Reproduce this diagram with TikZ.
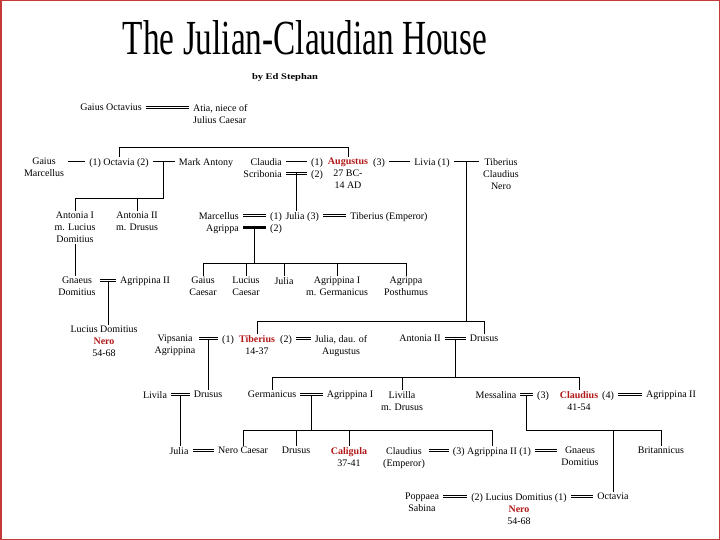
\documentclass[tikz,border=0pt]{standalone}
\usepackage{fontspec}
\setmainfont{Liberation Serif}
\usepackage{graphicx}
\usetikzlibrary{calc}

\definecolor{romred}{RGB}{178,24,24}
\definecolor{framered}{RGB}{196,58,58}
\newcommand{\imp}[1]{\textcolor{romred}{\bfseries #1}}

\begin{document}
\begin{tikzpicture}[x=1pt,y=-1pt]
  % Styles for people and for the lines between them
  \tikzset{person/.style={anchor=north, align=center, inner xsep=4pt, inner ysep=1pt, font=\fontsize{10}{12}\selectfont}}
  \tikzset{kin/.style={line width=0.7pt}}
  \tikzset{wed/.style={line width=3.4pt, postaction={draw=white, line width=1.8pt}}}
  \tikzset{wedheavy/.style={line width=2.6pt}}
  \useasboundingbox (0,0) rectangle (720,540);
  \draw[framered, line width=1.5pt] (0.75,0.75) rectangle (719.25,539.25);

  % Title
  \node[anchor=base, inner sep=0pt] (title) at (305,55) {\resizebox{364pt}{34pt}{The Julian-Claudian House}};
  \node[anchor=base, inner sep=0pt] (byline) at (285,80) {\resizebox{66pt}{6pt}{\bfseries by Ed Stephan}};

  % Gaius Octavius and Atia
  \node[person] (gaiusoct) at (111,103) {Gaius Octavius};
  \node[person, anchor=north west, align=left] (atia) at (189,103) {Atia, niece of\\Julius Caesar};
  \draw[wed] ([yshift=-4.5pt]gaiusoct.north east) -- ([yshift=-4.5pt]atia.north west);

  % Octavia, Augustus, Livia
  \node[person] (gmarc) at (44,157) {Gaius\\Marcellus};
  \node[person] (octavia) at (119,157) {(1) Octavia (2)};
  \node[person] (markant) at (206,157) {Mark Antony};
  \node[person, anchor=north east, align=right] (claudia) at (286,157) {Claudia\\Scribonia};
  \node[person] (aug1) at (317,157) {(1)};
  \node[person] (aug2) at (317,169) {(2)};
  \node[person] (augustus) at (348,157) {\imp{Augustus}\\27 BC-\\14 AD};
  \node[person] (aug3) at (379,157) {(3)};
  \node[person] (livia) at (432,157) {Livia (1)};
  \node[person] (tcn) at (501,157) {Tiberius\\Claudius\\Nero};
  \draw[kin] ([yshift=-4.5pt]gmarc.north east) -- ([yshift=-4.5pt]octavia.north west);
  \draw[kin] ([yshift=-4.5pt]octavia.north east) -- coordinate (octmark) ([yshift=-4.5pt]markant.north west);
  \draw[kin] ([yshift=-4.5pt]claudia.north east) -- ([yshift=-4.5pt]aug1.north west);
  \draw[wed] ([yshift=-16.5pt]claudia.north east) -- coordinate (scrmark) ([yshift=-4.5pt]aug2.north west);
  \draw[kin] ([yshift=-4.5pt]aug3.north east) -- ([yshift=-4.5pt]livia.north west);
  \draw[kin] ([yshift=-4.5pt]livia.north east) -- coordinate (livmark) ([yshift=-4.5pt]tcn.north west);
  \draw[kin] (octavia.north) -- ++(0,-10) -| (augustus.north);

  % Children of Octavia, Julia and her husbands
  \node[person] (antI) at (75,211) {Antonia I\\m. Lucius\\Domitius};
  \node[person] (antII) at (137,211) {Antonia II\\m. Drusus};
  \coordinate (barC) at (0,198);
  \draw[kin] (octmark) -- (octmark |- barC) -- (antI |- barC) -- (antI.north);
  \draw[kin] (antII.north) -- (antII |- barC);
  \node[person, anchor=north east, align=right] (marcel) at (243,211) {Marcellus\\Agrippa};
  \node[person] (jul1) at (276,211) {(1)};
  \node[person] (jul2) at (276,223) {(2)};
  \node[person] (julia) at (295,211) {Julia};
  \node[person] (jul3) at (313,211) {(3)};
  \node[person] (tibemp) at (389,211) {Tiberius (Emperor)};
  \draw[kin] (scrmark) -- (scrmark |- julia.north);
  \draw[wed] ([yshift=-4.5pt]marcel.north east) -- ([yshift=-4.5pt]jul1.north west);
  \draw[wedheavy] ([yshift=-16.5pt]marcel.north east) -- coordinate (agrmark) ([yshift=-4.5pt]jul2.north west);
  \draw[wed] ([yshift=-4.5pt]jul3.north east) -- ([yshift=-4.5pt]tibemp.north west);

  % Grandchildren
  \node[person] (gnaeus) at (77,276) {Gnaeus\\Domitius};
  \node[person] (agrII) at (145,276) {Agrippina II};
  \draw[kin] (antI.south) -- (antI.south |- gnaeus.north);
  \draw[wed] ([yshift=-4.5pt]gnaeus.north east) -- coordinate (gnmark) ([yshift=-4.5pt]agrII.north west);
  \node[person] (gaiusc) at (203,276) {Gaius\\Caesar};
  \node[person] (luciusc) at (246,276) {Lucius\\Caesar};
  \node[person] (juliaD) at (284,276) {Julia};
  \node[person] (agrI) at (337,276) {Agrippina I\\m. Germanicus};
  \node[person] (postum) at (406,276) {Agrippa\\Posthumus};
  \coordinate (barD) at (0,263);
  \draw[kin] (agrmark) -- (agrmark |- barD);
  \draw[kin] (gaiusc.north) |- (postum |- barD) -- (postum.north);
  \foreach \c in {luciusc,juliaD,agrI}
    \draw[kin] (\c.north) -- (\c |- barD);

  % Nero, Tiberius and Antonia II
  \node[person] (ldn) at (104,325) {Lucius Domitius\\\imp{Nero}\\54-68};
  \draw[kin] (gnmark) -- (gnmark |- ldn.north);
  \node[person] (vips) at (175,334) {Vipsania\\Agrippina};
  \node[person] (tib1) at (228,334) {(1)};
  \node[person] (tiber) at (257,334) {\imp{Tiberius}\\14-37};
  \node[person] (tib2) at (286,334) {(2)};
  \node[person] (juliaE) at (341,334) {Julia, dau. of\\Augustus};
  \node[person] (antIIE) at (420,334) {Antonia II};
  \node[person] (drusE) at (484,334) {Drusus};
  \draw[wed] ([yshift=-4.5pt]vips.north east) -- coordinate (vipmark) ([yshift=-4.5pt]tib1.north west);
  \draw[wed] ([yshift=-4.5pt]tib2.north east) -- ([yshift=-4.5pt]juliaE.north west);
  \draw[wed] ([yshift=-4.5pt]antIIE.north east) -- coordinate (antmark) ([yshift=-4.5pt]drusE.north west);
  \coordinate (barE) at (0,321);
  \draw[kin] (livmark) -- (livmark |- barE);
  \draw[kin] (tiber.north) |- (drusE |- barE) -- (drusE.north);

  % Drusus, Germanicus, Claudius
  \node[person] (livila) at (155,390) {Livila};
  \node[person] (drusF) at (208,390) {Drusus};
  \node[person] (germ) at (272,390) {Germanicus};
  \node[person] (agrIF) at (350,390) {Agrippina I};
  \node[person] (livilla) at (402,390) {Livilla\\m. Drusus};
  \node[person] (messal) at (496,390) {Messalina};
  \node[person] (cla3) at (543,390) {(3)};
  \node[person] (claud) at (579,390) {\imp{Claudius}\\41-54};
  \node[person] (cla4) at (608,390) {(4)};
  \node[person] (agrIIF) at (671,390) {Agrippina II};
  \draw[kin] (vipmark) -- (vipmark |- drusF.north);
  \draw[wed] ([yshift=-4.5pt]livila.north east) -- coordinate (lvmark) ([yshift=-4.5pt]drusF.north west);
  \draw[wed] ([yshift=-4.5pt]germ.north east) -- coordinate (germark) ([yshift=-4.5pt]agrIF.north west);
  \draw[wed] ([yshift=-4.5pt]messal.north east) -- coordinate (mesmark) ([yshift=-4.5pt]cla3.north west);
  \draw[wed] ([yshift=-4.5pt]cla4.north east) -- ([yshift=-4.5pt]agrIIF.north west);
  \coordinate (barF) at (0,377);
  \draw[kin] (antmark) -- (antmark |- barF);
  \draw[kin] (germ.north) |- (claud |- barF) -- (claud.north);
  \draw[kin] (livilla.north) -- (livilla |- barF);

  % Great-grandchildren
  \node[person] (juliaG) at (179,446) {Julia};
  \node[person] (nerocae) at (243,446) {Nero Caesar};
  \node[person] (drusG) at (296,446) {Drusus};
  \node[person] (calig) at (349,446) {\imp{Caligula}\\37-41};
  \node[person] (claudG) at (404,446) {Claudius\\(Emperor)};
  \node[person] (agrIIG) at (492,446) {(3) Agrippina II (1)};
  \node[person] (gnaeusG) at (580,446) {Gnaeus\\Domitius};
  \node[person] (britann) at (661,446) {Britannicus};
  \draw[kin] (lvmark) -- (lvmark |- juliaG.north);
  \draw[wed] ([yshift=-4.5pt]juliaG.north east) -- ([yshift=-4.5pt]nerocae.north west);
  \draw[wed] ([yshift=-4.5pt]claudG.north east) -- ([yshift=-4.5pt]agrIIG.north west);
  \draw[wed] ([yshift=-4.5pt]agrIIG.north east) -- ([yshift=-4.5pt]gnaeusG.north west);
  \coordinate (barG) at (0,430);
  \draw[kin] (germark) -- (germark |- barG);
  \draw[kin] (nerocae.north) |- (agrIIG |- barG) -- (agrIIG.north);
  \foreach \c in {drusG,calig}
    \draw[kin] (\c.north) -- (\c |- barG);
  \draw[kin] (mesmark) |- (britann |- barG) -- (britann.north);

  % Nero and his wives
  \node[person] (poppaea) at (422,492) {Poppaea\\Sabina};
  \node[person] (nero) at (519,492) {(2) Lucius Domitius (1)\\\imp{Nero}\\54-68};
  \node[person] (octav) at (613,492) {Octavia};
  \draw[wed] ([yshift=-4.5pt]poppaea.north east) -- ([yshift=-4.5pt]nero.north west);
  \draw[wed] ([yshift=-4.5pt]nero.north east) -- ([yshift=-4.5pt]octav.north west);
  \draw[kin] (octav.north) -- (octav |- barG);
\end{tikzpicture}
\end{document}
